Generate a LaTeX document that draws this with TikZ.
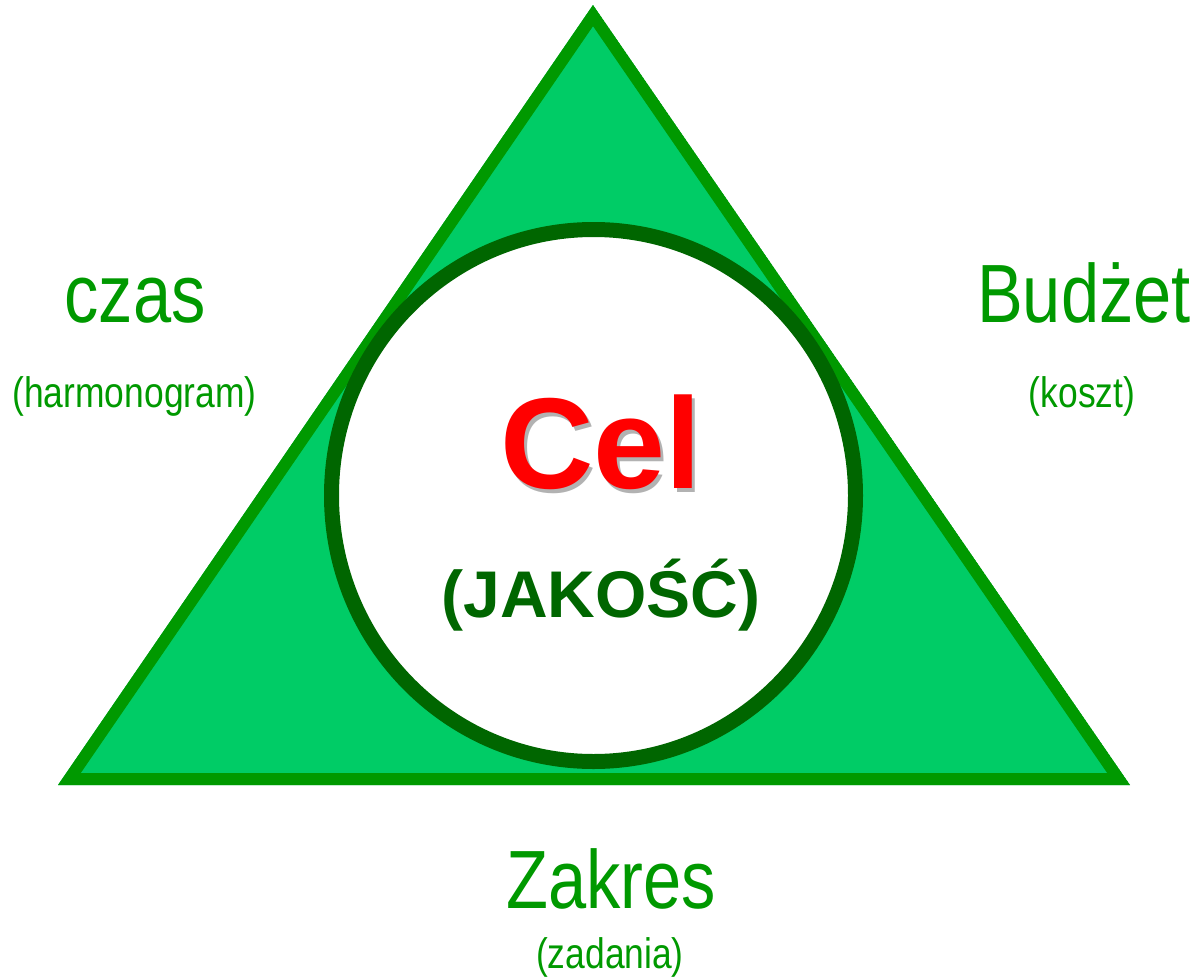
\documentclass[tikz,border=0pt]{standalone}
\usepackage{fontspec}
\newfontfamily\labelfont[FakeStretch=0.83]{Liberation Sans}
\newfontfamily\headfont{Liberation Sans}
\definecolor{trifill}{RGB}{0,204,102}
\definecolor{triline}{RGB}{0,153,0}
\definecolor{ringline}{RGB}{0,102,0}
\definecolor{celred}{RGB}{255,0,0}
\tikzset{
  biglabel/.style={text=triline, inner sep=0, anchor=base, font=\labelfont\fontsize{62}{62}\selectfont},
  smalllabel/.style={text=triline, inner sep=0, anchor=base, font=\labelfont\fontsize{32}{32}\selectfont},
}
\begin{document}
\begin{tikzpicture}[x=0.75pt,y=0.75pt,yscale=-1,xscale=1]
\useasboundingbox (0,0) rectangle (1197,978);

%Shape: Triangle
\coordinate (apex) at (593,5);
\coordinate (left) at (58,785);
\coordinate (right) at (1130,785);
\begin{scope}
\clip (apex) -- (left) -- (right) -- cycle;
\draw [color=triline, fill=trifill, line width=18pt] (apex) -- (left) -- (right) -- cycle;
\end{scope}

%Shape: Circle
\draw [color=ringline, fill=white, line width=11.25pt] (593.5,495.5) ellipse (262 and 266);

%Texts inside
\node [text=black, opacity=0.3, inner sep=0, anchor=base, font=\headfont\bfseries\fontsize{97}{97}\selectfont] (celshadow) at (604,492) {Cel};
\node [text=celred, inner sep=0, anchor=base, font=\headfont\bfseries\fontsize{97}{97}\selectfont] (cel) at (601,488) {Cel};
\node [text=ringline, inner sep=0, anchor=base, font=\headfont\bfseries\fontsize{49.5}{49.5}\selectfont] (jakosc) at (601,617) {(JAKOŚĆ)};

%Texts outside
\node [biglabel] (czas) at (135,322) {czas};
\node [smalllabel] (harmonogram) at (134.5,407) {(harmonogram)};
\node [biglabel] (budzet) at (1084,322) {Budżet};
\node [smalllabel] (koszt) at (1082,407) {(koszt)};
\node [biglabel] (zakres) at (611,908) {Zakres};
\node [smalllabel] (zadania) at (610,968) {(zadania)};

\end{tikzpicture}
\end{document}
